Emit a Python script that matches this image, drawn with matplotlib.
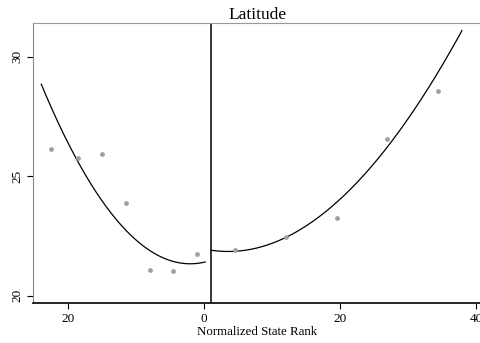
import numpy as np
import matplotlib
matplotlib.use("Agg")
import matplotlib.pyplot as plt

# binned means, left and right of the cutoff
left_x = [-22.5, -18.5, -15.0, -11.5, -8.0, -4.5, -1.0]
left_y = [26.12, 25.76, 25.93, 23.89, 21.09, 21.02, 21.73]
right_x = [4.5, 12.0, 19.5, 26.9, 34.4]
right_y = [21.91, 22.47, 23.24, 26.57, 28.58]

# fitted curves
fit_lx = [-23.93, -20.69, -18.24, -15.78, -13.34, -10.88, -8.43, -5.99, -3.53, -1.57, 0.15]
fit_ly = [28.79, 26.95, 25.41, 24.16, 23.32, 22.62, 22.00, 21.58, 21.37, 21.33, 21.40]
fit_rx = [1.03, 1.87, 5.04, 7.99, 11.91, 14.85, 19.75, 22.46, 24.90, 27.35, 29.81, 32.25, 34.71, 37.90]
fit_ry = [21.84, 21.88, 21.92, 22.06, 22.48, 22.83, 23.81, 24.72, 25.62, 26.39, 27.36, 28.34, 29.53, 31.06]

cutoff = 1.0
xticks = [-20, 0, 20, 40]
xtick_labels = ['20', '0', '20', '40']
yticks = [20, 25, 30]

plt.rcParams['font.family'] = ['Liberation Serif', 'DejaVu Serif']

fig = plt.figure(figsize=(4.81, 3.43), dpi=100)
ax = fig.add_axes([0.0693, 0.1157, 0.9307, 0.8181])

ax.scatter(left_x, left_y, s=12, color='#a0a0a0', zorder=3, linewidths=0)
ax.scatter(right_x, right_y, s=12, color='#a0a0a0', zorder=3, linewidths=0)

# smooth the fit lines with a polynomial through the read samples
pl = np.polyfit(fit_lx, fit_ly, 2)
pr = np.polyfit(fit_rx, fit_ry, 3)
xl = np.linspace(fit_lx[0], fit_lx[-1], 200)
xr = np.linspace(fit_rx[0], fit_rx[-1], 200)
ax.plot(xl, np.polyval(pl, xl), color='black', lw=0.9)
ax.plot(xr, np.polyval(pr, xr), color='black', lw=0.9)
ax.axvline(cutoff, color='black', lw=1.1)

ax.set_xlim(-25.1, 40.7)
ax.set_ylim(19.68, 31.42)
ax.set_xticks(xticks)
ax.set_xticklabels(xtick_labels)
ax.set_yticks(yticks)
ax.set_yticklabels([str(v) for v in yticks], rotation=90, va='center')
ax.tick_params(direction='out', length=4, width=0.8, labelsize=9.5, pad=3)

ax.spines['right'].set_visible(False)
ax.spines['top'].set_color('#999999')
ax.spines['left'].set_color('#888888')
ax.spines['bottom'].set_color('black')
ax.spines['bottom'].set_linewidth(1.2)

ax.set_title('Latitude', fontsize=12.5, pad=3)
ax.set_xlabel('Normalized State Rank', fontsize=9.3, labelpad=1)

fig.savefig('out.png', dpi=100)
